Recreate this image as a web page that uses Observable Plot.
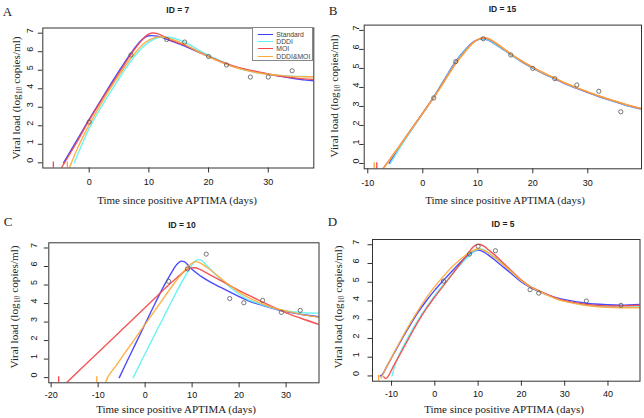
<!DOCTYPE html>
<html><head><meta charset="utf-8">
<script src="https://cdn.jsdelivr.net/npm/d3@7"></script>
<script src="https://cdn.jsdelivr.net/npm/@observablehq/plot@0.6"></script>
<style>
body{margin:0;background:#fff;}
#root{position:relative;width:644px;height:418px;overflow:hidden;background:#fff;}
.panel{position:absolute;width:322px;height:209px;}
.panel svg{position:absolute;left:0;top:0;}
.t{position:absolute;white-space:nowrap;transform:translate(-50%,-50%);line-height:1;color:#222;font-weight:normal;}
.letter{font-family:"Liberation Serif","Times New Roman",serif;font-size:13px;}
.title{font-family:"Liberation Sans",Arial,sans-serif;font-weight:bold;font-size:8.5px;}
.xlab{font-family:"Liberation Serif","Times New Roman",serif;font-size:11px;}
.ylab{font-family:"Liberation Serif","Times New Roman",serif;font-size:11.2px;transform:translate(-50%,-50%) rotate(-90deg);}
.ylab sub{font-size:70%;vertical-align:-0.2em;line-height:0;}
.legend{position:absolute;border:1px solid #888;background:#fff;box-sizing:border-box;font-family:"Liberation Sans",Arial,sans-serif;font-size:6.8px;color:#444;padding-top:3px;}
.legend .row{position:relative;height:7.1px;}
.legend .sw{position:absolute;left:5px;top:3px;width:15px;border-top:1.3px solid;}
.legend .lb{position:absolute;left:23px;top:0px;line-height:7px;}
</style>
</head><body><div id="root"></div>
<script>
// ---- data ----
const models = ["Standard", "DDDI", "MOI", "DDDI&MOI"];
const modelColors = ["#3b3bff", "#5cf2f2", "#f44848", "#ffa83a"];
const yTicks = [0, 1, 2, 3, 4, 5, 6, 7];

// Panel A (ID = 7)
const A_xTicks = [0, 10, 20, 30];
const A_obsT = [0, 7, 13, 16, 20, 23, 27, 30, 34];
const A_obsV = [2.2, 5.82, 6.66, 6.52, 5.74, 5.28, 4.63, 4.63, 4.97];
const A_standard = [[-4.3,0],[-2,1.25],[0,2.35],[2,3.4],[4,4.45],[6,5.45],[7,5.92],[8,6.35],[9,6.7],[9.8,6.85],[10.6,6.87],[11.4,6.84],[12.2,6.77],[13,6.67],[14,6.55],[16,6.3],[18,6.02],[20,5.75],[22,5.47],[24,5.22],[26,5.04],[28,4.9],[30,4.79],[32,4.67],[34,4.57],[36,4.48],[37.7,4.43]];
const A_dddi = [[-2.5,0],[0,1.85],[2,3.0],[4,4.05],[6,5.05],[7,5.5],[8,5.9],[9,6.25],[10,6.52],[11,6.7],[12,6.79],[12.8,6.8],[13.6,6.77],[14.5,6.7],[16,6.52],[18,6.15],[20,5.8],[22,5.5],[24,5.22],[26,5.02],[28,4.88],[30,4.78],[32,4.72],[34,4.68],[36,4.66],[37.7,4.65]];
const A_moi = [[-4.7,-0.3],[-2,1.15],[0,2.3],[2,3.35],[4,4.35],[6,5.35],[7,5.85],[8,6.3],[9,6.68],[9.8,6.92],[10.6,7.01],[11.4,6.98],[12.2,6.87],[13,6.74],[14,6.58],[16,6.35],[18,6.05],[20,5.75],[22,5.48],[24,5.25],[26,5.07],[28,4.93],[30,4.8],[32,4.68],[34,4.6],[36,4.53],[37.7,4.5]];
const A_dddimoi = [[-3.35,-0.3],[-2,0.75],[0,2.05],[2,3.2],[4,4.25],[6,5.2],[7,5.65],[8,6.05],[9,6.4],[10,6.63],[11,6.76],[11.8,6.8],[12.6,6.78],[13.4,6.72],[14.5,6.6],[16,6.4],[18,6.05],[20,5.72],[22,5.45],[24,5.2],[26,5.02],[28,4.88],[30,4.78],[32,4.72],[34,4.67],[36,4.65],[37.7,4.65]];
const A_stubs = [[-6.0, "MOI"], [-3.65, "DDDI&MOI"]];

// Panel B (ID = 15)
const B_xTicks = [-10, 0, 10, 20, 30];
const B_obsT = [2, 6, 11, 16, 20, 24, 28, 32, 36];
const B_obsV = [3.45, 5.36, 6.56, 5.71, 5.0, 4.46, 4.13, 3.8, 2.72];
const B_standard = [[-6.1,0],[-4,0.95],[-2,1.8],[0,2.65],[2,3.5],[4,4.45],[6,5.38],[8,6.08],[9,6.35],[10,6.52],[11,6.56],[12,6.48],[13,6.3],[14,6.12],[16,5.72],[18,5.35],[20,5.02],[22,4.72],[24,4.45],[26,4.18],[28,3.95],[30,3.73],[32,3.52],[34,3.33],[36,3.15],[38,2.98],[39.8,2.85]];
const B_dddi = [[-5.9,0],[-4,0.9],[-2,1.78],[0,2.64],[2,3.5],[4,4.43],[6,5.34],[8,6.05],[9,6.33],[10,6.51],[11,6.56],[12,6.49],[13,6.32],[14,6.13],[16,5.73],[18,5.36],[20,5.03],[22,4.73],[24,4.46],[26,4.19],[28,3.96],[30,3.74],[32,3.53],[34,3.34],[36,3.16],[38,2.99],[39.8,2.86]];
const B_moi = [[-7.3,-0.3],[-6,0.22],[-4,1.02],[-2,1.85],[0,2.65],[2,3.48],[4,4.38],[6,5.28],[8,6.0],[9,6.32],[10,6.52],[11,6.6],[12,6.55],[13,6.38],[14,6.18],[16,5.76],[18,5.38],[20,5.05],[22,4.75],[24,4.48],[26,4.21],[28,3.98],[30,3.76],[32,3.55],[34,3.36],[36,3.18],[38,3.01],[39.8,2.88]];
const B_dddimoi = [[-7.2,-0.3],[-6,0.2],[-4,1.0],[-2,1.83],[0,2.64],[2,3.46],[4,4.35],[6,5.25],[8,5.98],[9,6.3],[10,6.52],[11,6.62],[12,6.57],[13,6.4],[14,6.2],[16,5.77],[18,5.4],[20,5.06],[22,4.76],[24,4.49],[26,4.22],[28,3.99],[30,3.77],[32,3.56],[34,3.37],[36,3.19],[38,3.02],[39.8,2.9]];
const B_stubs = [[-8.84, "DDDI&MOI"], [-8.36, "MOI"]];

// Panel C (ID = 10)
const C_xTicks = [-20, -10, 0, 10, 20, 30];
const C_obsT = [5, 9, 13, 18, 21, 25, 29, 33];
const C_obsV = [5.2, 5.87, 6.67, 4.27, 4.04, 4.17, 3.52, 3.63];
const C_standard = [[-5.5,0],[-4,0.8],[-2,1.85],[0,2.9],[2,3.95],[4,4.95],[5,5.4],[5.8,5.75],[6.5,6.03],[7.1,6.2],[7.7,6.29],[8.3,6.26],[8.9,6.14],[9.6,5.95],[10.4,5.76],[11.2,5.6],[12,5.45],[14,5.14],[16,4.88],[18,4.63],[20,4.38],[22,4.14],[25,3.9],[28,3.68],[30,3.57],[33,3.42],[37,3.29]];
const C_dddi = [[-2.55,0],[0,1.3],[2,2.3],[4,3.3],[6,4.3],[8,5.25],[9,5.68],[9.7,5.98],[10.3,6.2],[10.8,6.32],[11.3,6.37],[11.9,6.34],[12.5,6.22],[13.2,6.03],[14,5.82],[15,5.57],[16,5.33],[18,4.9],[20,4.5],[22,4.2],[25,3.93],[28,3.7],[30,3.6],[33,3.52],[37,3.48]];
const C_moi = [[-16.7,-0.27],[-10,1.36],[-5,2.57],[0,3.79],[3,4.52],[5,5.0],[6.5,5.34],[7.7,5.6],[8.7,5.8],[9.6,5.91],[10.5,5.93],[11.4,5.87],[12.4,5.75],[14,5.52],[16,5.25],[18,4.98],[20,4.7],[22,4.45],[25,4.08],[28,3.72],[30,3.5],[33,3.22],[37,2.87]];
const C_dddimoi = [[-8.4,-0.27],[-8,0],[-6,0.72],[-4,1.44],[-2,2.16],[0,2.88],[2,3.6],[4,4.32],[5,4.68],[6,5.03],[7,5.36],[8,5.67],[8.8,5.9],[9.5,6.08],[10.1,6.2],[10.7,6.26],[11.3,6.24],[12,6.15],[13,5.98],[14,5.8],[16,5.38],[18,4.98],[20,4.62],[22,4.32],[25,3.98],[28,3.72],[30,3.6],[33,3.43],[37,3.25]];
const C_stubs = [[-18.4, "MOI"], [-10.3, "DDDI&MOI"]];

// Panel D (ID = 5)
const D_xTicks = [-10, 0, 10, 20, 30, 40];
const D_obsT = [2, 8, 10, 14, 22, 24, 35, 43];
const D_obsV = [5.06, 6.5, 6.92, 6.68, 4.6, 4.42, 4.0, 3.77];
const D_standard = [[-12.6,0],[-12.2,0.05],[-11,0.55],[-9.8,1.05],[-8,1.8],[-6,2.6],[-4,3.35],[-2,4.0],[0,4.58],[2,5.1],[4,5.6],[6,6.08],[7.2,6.34],[8.2,6.53],[9,6.64],[9.8,6.71],[10.6,6.69],[11.4,6.6],[12.3,6.46],[14,6.16],[16,5.78],[18,5.4],[20,5.02],[22,4.73],[25,4.42],[28,4.18],[30,4.07],[35,3.88],[40,3.8],[43,3.78],[47.4,3.82]];
const D_dddi = [[-9.9,0],[-9.3,0.5],[-8.5,1.0],[-7,1.7],[-5,2.55],[-3,3.3],[-1,3.98],[1,4.6],[3,5.15],[5,5.7],[7,6.2],[8,6.43],[9,6.63],[9.8,6.74],[10.6,6.77],[11.4,6.72],[12.3,6.6],[14,6.3],[16,5.92],[18,5.5],[20,5.08],[22,4.76],[25,4.42],[28,4.12],[30,4.0],[35,3.78],[40,3.68],[43,3.67],[47.4,3.68]];
const D_moi = [[-11.8,-0.05],[-11.3,-0.14],[-10.6,0.05],[-9.5,0.55],[-8.4,1.0],[-6,2.02],[-4,2.85],[-2,3.58],[0,4.22],[2,4.82],[4,5.42],[6,6.02],[7.3,6.42],[8.3,6.74],[9.1,6.93],[9.9,7.02],[10.7,7.0],[11.5,6.9],[12.4,6.73],[14,6.42],[16,5.98],[18,5.55],[20,5.12],[22,4.78],[25,4.45],[28,4.15],[30,4.02],[35,3.82],[40,3.74],[43,3.74],[47.4,3.77]];
const D_dddimoi = [[-12.4,-0.12],[-11.5,0.32],[-10,0.98],[-8,1.85],[-6,2.68],[-4,3.45],[-2,4.15],[0,4.78],[2,5.32],[4,5.82],[6,6.24],[7.3,6.48],[8.3,6.63],[9.1,6.72],[9.9,6.77],[10.7,6.75],[11.5,6.68],[12.4,6.56],[14,6.28],[16,5.9],[18,5.5],[20,5.08],[22,4.76],[25,4.42],[28,4.12],[30,3.98],[35,3.76],[40,3.66],[43,3.64],[47.4,3.64]];
const D_stubs = [[-13.0, "DDDI&MOI"]];

// ---- layout ----
const panels = [
  {letter:"A", id:7, left:0, top:0, mL:42.3, mR:8.7, mT:27.5, mB:41.5, dom:[-7.77,37.63],
   xTicks:A_xTicks, obsT:A_obsT, obsV:A_obsV, curves:[A_standard,A_dddi,A_moi,A_dddimoi], stubs:A_stubs,
   xPad:6, yOff:13, letterPos:[7.5,11], titlePos:[177.8,9.5], xlabPos:[177,200], ylabPos:[17,97.5], legend:true},
  {letter:"B", id:15, left:322, top:0, mL:41.7, mR:3, mT:24.6, mB:40.7, dom:[-10.65,39.76],
   xTicks:B_xTicks, obsT:B_obsT, obsV:B_obsV, curves:[B_standard,B_dddi,B_moi,B_dddimoi], stubs:B_stubs,
   xPad:6, yOff:8.4, letterPos:[11,9.5], titlePos:[180.5,9], xlabPos:[183,200], ylabPos:[13.3,96]},
  {letter:"C", id:10, left:0, top:209, mL:48.3, mR:3.5, mT:33.3, mB:35.7, dom:[-20.5,37.0],
   xTicks:C_xTicks, obsT:C_obsT, obsV:C_obsV, curves:[C_standard,C_dddi,C_moi,C_dddimoi], stubs:C_stubs,
   xPad:4, yOff:15, letterPos:[8,12], titlePos:[182,15.7], xlabPos:[176,200], ylabPos:[15,98]},
  {letter:"D", id:5, left:322, top:209, mL:50, mR:4.5, mT:30, mB:37.3, dom:[-14.4,47.4],
   xTicks:D_xTicks, obsT:D_obsT, obsV:D_obsV, curves:[D_standard,D_dddi,D_moi,D_dddimoi], stubs:D_stubs,
   xPad:4, yOff:16.7, letterPos:[10.5,12], titlePos:[181,15], xlabPos:[182,200], ylabPos:[16.7,98.3]}
];

const root = document.getElementById("root");

function addText(parent, cls, html, pos) {
  const d = document.createElement("div");
  d.className = "t " + cls;
  d.innerHTML = html;
  d.style.left = pos[0] + "px";
  d.style.top = pos[1] + "px";
  parent.appendChild(d);
  return d;
}

for (const p of panels) {
  const rows = [];
  p.curves.forEach((c, i) => c.forEach(([t, v]) => rows.push({t, v, model: models[i]})));
  const obs = p.obsT.map((t, i) => ({t, v: p.obsV[i]}));
  const stubs = p.stubs.map(([t, m]) => ({t, model: m}));

  const svg = Plot.plot({
    width: 322, height: 209,
    marginLeft: p.mL, marginRight: p.mR, marginTop: p.mT, marginBottom: p.mB,
    x: {domain: p.dom, label: null},
    y: {domain: [-0.28, 7.28], label: null},
    color: {domain: models, range: modelColors},
    style: {fontFamily: '"Liberation Sans", Arial, sans-serif', fontSize: "9px", color: "#111", background: "transparent", overflow: "visible"},
    marks: [
      Plot.ruleX(stubs, {x: "t", y1: () => 0.04, y2: () => -0.5, stroke: "model", strokeWidth: 1.3, clip: true}),
      Plot.line(rows, {x: "t", y: "v", z: "model", stroke: "model", strokeWidth: 1.4, strokeOpacity: 0.92, curve: "catmull-rom", clip: true}),
      Plot.dot(obs, {x: "t", y: "v", r: 2.1, stroke: "#555", strokeWidth: 0.8, fill: "none"}),
      Plot.frame({stroke: "#333", strokeWidth: 1}),
      Plot.axisX({ticks: p.xTicks, tickSize: 5, tickPadding: p.xPad, tickFormat: d => String(d), label: null, stroke: "#333", fill: "#111"}),
      Plot.axisY({ticks: yTicks, tickSize: 4.5, tickFormat: () => "", label: null, stroke: "#333"}),
      Plot.text(yTicks, {y: d => d, frameAnchor: "left", dx: -p.yOff, rotate: -90, text: d => String(d), fill: "#111", fontSize: 9})
    ]
  });

  const div = document.createElement("div");
  div.className = "panel";
  div.style.left = p.left + "px";
  div.style.top = p.top + "px";
  div.appendChild(svg);
  root.appendChild(div);

  addText(div, "letter", p.letter, p.letterPos);
  addText(div, "title", "ID = " + p.id, p.titlePos);
  addText(div, "xlab", "Time since positive APTIMA (days)", p.xlabPos);
  addText(div, "ylab", "Viral load (log<sub>10</sub> copies/ml)", p.ylabPos);

  if (p.legend) {
    const lg = document.createElement("div");
    lg.className = "legend";
    lg.style.left = "252.3px"; lg.style.top = "27.3px";
    lg.style.width = "61px"; lg.style.height = "33.5px";
    models.forEach((m, i) => {
      const r = document.createElement("div");
      r.className = "row";
      r.innerHTML = `<span class="sw" style="border-color:${modelColors[i]}"></span><span class="lb">${m.replace("&", "&amp;")}</span>`;
      lg.appendChild(r);
    });
    div.appendChild(lg);
  }
}
</script>
</body></html>
